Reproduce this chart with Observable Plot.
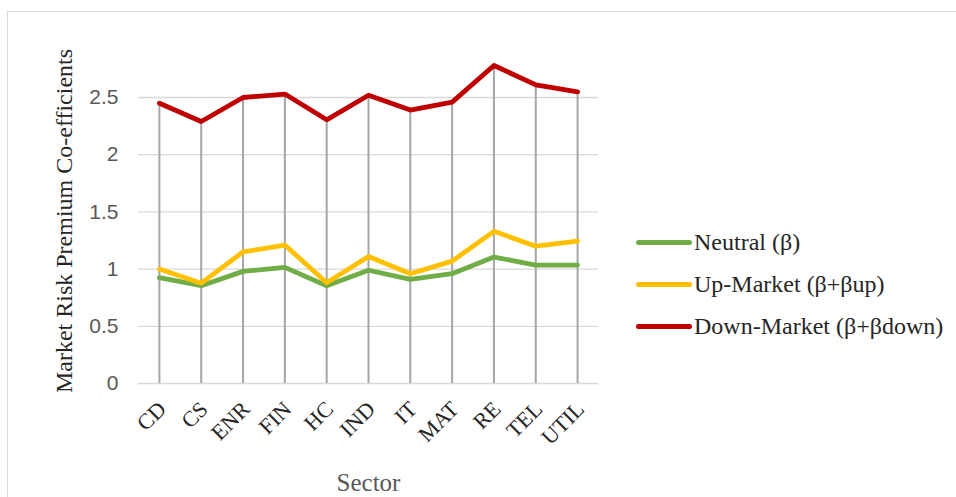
<!DOCTYPE html>
<html><head><meta charset="utf-8">
<script src="https://cdn.jsdelivr.net/npm/d3@7"></script>
<script src="https://cdn.jsdelivr.net/npm/@observablehq/plot@0.6"></script>
<style>
body{margin:0;background:#fff;overflow:hidden}
#wrap{position:relative;width:956px;height:497px;overflow:hidden}
#frame{position:absolute;left:7px;top:11px;width:1000px;height:600px;border:1px solid #d9d9d9;box-sizing:border-box}
#legend{position:absolute;left:636px;top:221px;font-family:"Liberation Serif",serif;font-size:24px;color:#262626}
#legend .row{display:flex;align-items:center;height:42px;white-space:nowrap}
#legend .sw{width:56px;height:5px;border-radius:3px;margin-right:2px}
#chart{position:absolute;left:0;top:0}
</style></head>
<body><div id="wrap"><div id="frame"></div><div id="chart"></div><div id="legend"></div></div>
<script>
const sectors = ["CD","CS","ENR","FIN","HC","IND","IT","MAT","RE","TEL","UTIL"];
const neutral = [0.925,0.855,0.98,1.015,0.855,0.99,0.91,0.96,1.105,1.035,1.035];
const upMarket = [1.00,0.877,1.15,1.21,0.88,1.11,0.96,1.07,1.33,1.20,1.245];
const downMarket = [2.45,2.29,2.50,2.53,2.305,2.52,2.39,2.46,2.78,2.61,2.55];
const seriesNames = ["Neutral (β)","Up-Market (β+βup)","Down-Market (β+βdown)"];
const seriesColors = ["#70ad47","#ffc000","#c00000"];
const yTicks = [0,0.5,1,1.5,2,2.5];

const seriesValues = [neutral, upMarket, downMarket];
const rows = [];
seriesValues.forEach((vals,i)=>vals.forEach((v,j)=>rows.push({sector:sectors[j],value:v,series:seriesNames[i]})));
const drops = sectors.map((s,j)=>({sector:s,top:Math.max(neutral[j],upMarket[j],downMarket[j])}));

const chart = Plot.plot({
  width:956, height:497,
  marginLeft:138, marginRight:358, marginTop:40, marginBottom:114,
  x:{type:"point", domain:sectors, padding:0.5, round:false},
  y:{domain:[0,2.5], range:[383,97]},
  color:{domain:seriesNames, range:seriesColors},
  style:{background:"transparent"},
  marks:[
    Plot.gridY(yTicks,{stroke:"#d9d9d9",strokeOpacity:1,strokeWidth:1.3}),
    Plot.ruleX(drops,{x:"sector",y1:0,y2:"top",stroke:"#a6a6a6",strokeWidth:2}),
    Plot.line(rows,{x:"sector",y:"value",z:"series",stroke:"series",strokeWidth:4.8,strokeLinejoin:"round"}),
    Plot.axisY(yTicks,{tickSize:0,tickPadding:20,fontSize:21,fill:"#595959",fontFamily:"Liberation Sans, sans-serif",tickFormat:d=>String(d),label:null}),
    Plot.axisX({tickSize:0,tickRotate:-45,tickPadding:22,dx:3,fontSize:22,fill:"#262626",fontFamily:"Liberation Serif, serif",label:null}),
    Plot.text(["Sector"],{x:()=>"IND",frameAnchor:"bottom",lineAnchor:"middle",dy:99,text:d=>d,fontSize:25,fill:"#595959",fontFamily:"Liberation Serif, serif"}),
    Plot.text(["Market Risk Premium Co-efficients"],{frameAnchor:"left",textAnchor:"middle",lineAnchor:"middle",dx:-74,dy:9,rotate:-90,text:d=>d,fontSize:24,fill:"#262626",fontFamily:"Liberation Serif, serif"})
  ]
});
document.getElementById("chart").appendChild(chart);

const leg = document.getElementById("legend");
seriesNames.forEach((n,i)=>{
  const r=document.createElement("div");r.className="row";
  const s=document.createElement("div");s.className="sw";s.style.background=seriesColors[i];
  const t=document.createElement("span");t.textContent=n;
  r.appendChild(s);r.appendChild(t);leg.appendChild(r);
});
</script></body></html>
